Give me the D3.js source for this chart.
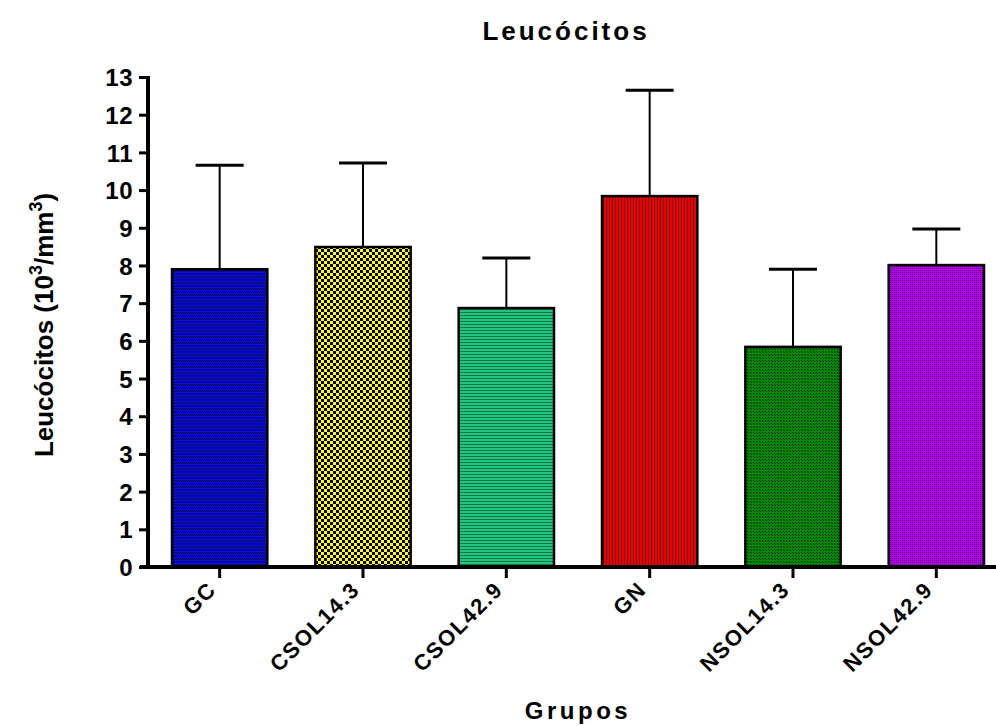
<!DOCTYPE html>
<html>
<head>
<meta charset="utf-8">
<script src="https://cdn.jsdelivr.net/npm/d3@7"></script>
<style>
  html, body { margin: 0; padding: 0; background: #fff; }
  svg text { font-family: "Liberation Sans", Arial, sans-serif; font-weight: bold; fill: #000; }
</style>
</head>
<body>
<svg id="chart" width="996" height="726"></svg>
<script>
// Leukocyte counts per group (mean and mean + SD)
const groups = ["GC", "CSOL14.3", "CSOL42.9", "GN", "NSOL14.3", "NSOL42.9"];
const means = [7.9, 8.49, 6.87, 9.84, 5.84, 8.01];
const upper = [10.66, 10.72, 8.2, 12.65, 7.9, 8.97];
const yTicks = [0, 1, 2, 3, 4, 5, 6, 7, 8, 9, 10, 11, 12, 13];

const svg = d3.select("#chart");
const defs = svg.append("defs");

// Fill patterns for each group's bar
function pattern(id, w, h, bg, cells) {
  const p = defs.append("pattern").attr("id", id)
    .attr("patternUnits", "userSpaceOnUse").attr("width", w).attr("height", h);
  p.append("rect").attr("width", w).attr("height", h).attr("fill", bg);
  cells.forEach(c => p.append("rect").attr("x", c[0]).attr("y", c[1])
    .attr("width", c[2]).attr("height", c[3]).attr("fill", c[4]));
}
pattern("p0", 2, 3, "#0a0aee", [[0, 0, 1, 1, "#000020"], [1, 1, 1, 1, "#000040"]]);
pattern("p1", 6, 6, "#ffff00", [[0, 0, 3, 3, "#000"], [3, 3, 3, 3, "#000"]]);
pattern("p2", 3, 3, "#22c47e", [[0, 0, 3, 1, "#0b7a48"]]);
pattern("p3", 3, 3, "#ee0000", [[0, 0, 1, 3, "#700000"]]);
pattern("p4", 3, 3, "#008a00", [[0, 0, 1, 1, "#002200"], [1, 1, 1, 1, "#003300"]]);
pattern("p5", 2, 2, "#b400ea", [[0, 0, 1, 1, "#5a0078"]]);
const fills = ["url(#p0)", "url(#p1)", "url(#p2)", "url(#p3)", "url(#p4)", "url(#p5)"];

const x = d3.scaleBand().domain(groups).range([148, 1008]).paddingInner(0.335).paddingOuter(0.1675);
const y = d3.scaleLinear().domain([0, 13]).range([567, 77]);

const FONT = "'Liberation Sans', Arial, sans-serif";

// Bars
svg.append("g").selectAll("rect").data(groups).join("rect")
  .attr("x", d => x(d))
  .attr("y", (d, i) => y(means[i]))
  .attr("width", x.bandwidth())
  .attr("height", (d, i) => y(0) - y(means[i]))
  .attr("fill", (d, i) => fills[i])
  .attr("stroke", "#000").attr("stroke-width", 2.5);

// Error bars (upper only)
const eb = svg.append("g").attr("stroke", "#000");
groups.forEach((g, i) => {
  const cx = x(g) + x.bandwidth() / 2;
  eb.append("line").attr("x1", cx).attr("x2", cx)
    .attr("y1", y(means[i])).attr("y2", y(upper[i])).attr("stroke-width", 2);
  eb.append("line").attr("x1", cx - 24).attr("x2", cx + 24)
    .attr("y1", y(upper[i])).attr("y2", y(upper[i])).attr("stroke-width", 3);
});

// Y axis
const yAxis = svg.append("g").attr("transform", "translate(148,0)")
  .call(d3.axisLeft(y).tickValues(yTicks).tickFormat(d3.format("d")).tickSize(9).tickPadding(6));
yAxis.select(".domain").style("stroke-width", "4px").attr("d", `M0,${y(13) - 1}V${y(0) + 2}`);
yAxis.selectAll(".tick line").style("stroke-width", "3px");
yAxis.selectAll(".tick text").style("font-size", "24px").style("font-weight", "bold")
  .style("font-family", FONT).attr("dy", "0.36em").style("letter-spacing", "0.5px");

// X axis
const xAxis = svg.append("g").attr("transform", "translate(0,567)")
  .call(d3.axisBottom(x).tickSize(11).tickSizeOuter(0));
xAxis.select(".domain").style("stroke-width", "4px").attr("d", "M140,0H996");
xAxis.selectAll(".tick line").style("stroke-width", "3px");
xAxis.selectAll(".tick text")
  .style("font-size", "22px").style("font-weight", "bold")
  .style("font-family", FONT)
  .attr("text-anchor", "end").attr("dy", null).attr("y", 0)
  .attr("transform", "translate(-2,24) rotate(-45)")
  .style("letter-spacing", "1.5px");

// Title
svg.append("text").attr("x", 566).attr("y", 40).attr("text-anchor", "middle")
  .style("font-size", "26px").style("letter-spacing", "3px").text("Leucócitos");

// X axis title
svg.append("text").attr("x", 578).attr("y", 719).attr("text-anchor", "middle")
  .style("font-size", "24px").style("letter-spacing", "3.5px").text("Grupos");

// Y axis title
const yt = svg.append("text").attr("transform", "translate(53,325) rotate(-90)")
  .attr("text-anchor", "middle").style("font-size", "26px");
yt.append("tspan").text("Leucócitos (10");
yt.append("tspan").attr("dy", -11).style("font-size", "18px").text("3");
yt.append("tspan").attr("dy", 11).text("/mm");
yt.append("tspan").attr("dy", -11).style("font-size", "18px").text("3");
yt.append("tspan").attr("dy", 11).text(")");
</script>
</body>
</html>
